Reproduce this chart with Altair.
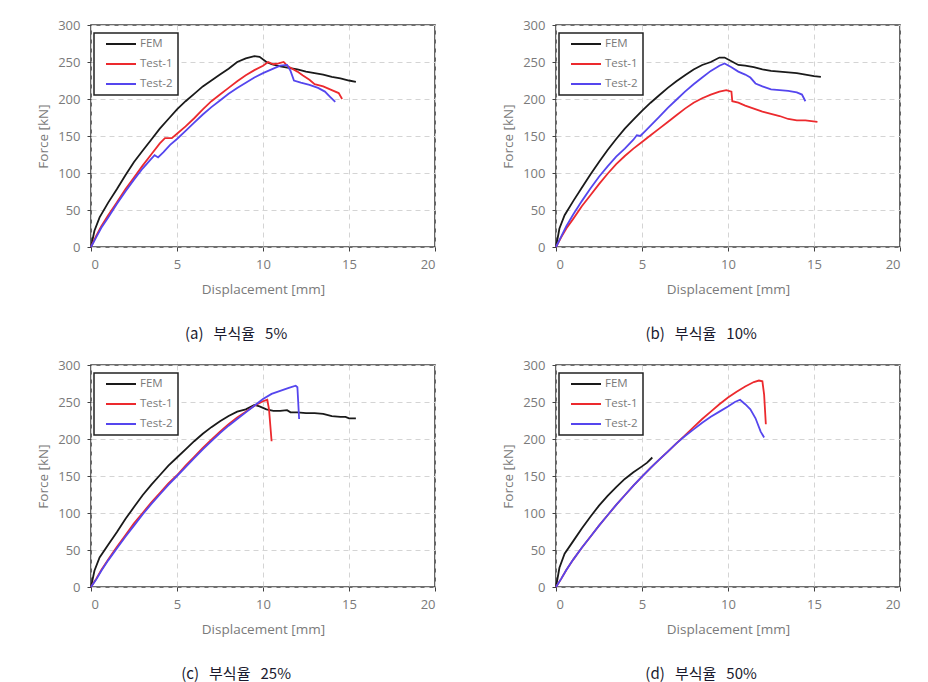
import altair as alt
import pandas as pd

# ---------------- data ----------------
# Panel (a) 5%
a_fem_x = [0, 0.2, 0.5, 1, 1.5, 2, 2.5, 3, 3.5, 4, 4.5, 5, 5.5, 6, 6.5, 7, 7.5, 8, 8.5, 9, 9.5, 9.8, 10.2, 10.5, 11, 11.5, 12, 12.5, 13, 13.5, 14, 14.5, 15, 15.4]
a_fem_y = [0, 22, 40, 60, 78, 97, 115, 130, 145, 160, 173, 186, 197, 207, 217, 225, 233, 241, 250, 255, 258, 257, 250, 247, 244, 242, 240, 237, 235, 233, 230, 228, 225, 223]
a_t1_x = [0, 0.3, 0.6, 1, 1.5, 2, 2.5, 3, 3.5, 4, 4.3, 4.7, 5, 5.5, 6, 6.5, 7, 7.5, 8, 8.5, 9, 9.5, 10, 10.3, 10.6, 10.9, 11.2, 11.4, 11.7, 12, 12.3, 12.7, 13, 13.5, 14, 14.4, 14.6]
a_t1_y = [0, 15, 28, 43, 60, 78, 94, 110, 125, 140, 147, 147, 153, 163, 174, 186, 197, 206, 215, 224, 232, 239, 245, 250, 247, 248, 250, 245, 241, 237, 232, 226, 220, 217, 212, 208, 200]
a_t2_x = [0, 0.3, 0.6, 1, 1.5, 2, 2.5, 3, 3.5, 3.7, 3.9, 4.2, 4.6, 5, 5.5, 6, 6.5, 7, 7.5, 8, 8.5, 9, 9.5, 10, 10.5, 11, 11.4, 11.6, 11.8, 12.2, 12.7, 13.2, 13.6, 13.9, 14.2]
a_t2_y = [0, 13, 26, 40, 58, 75, 91, 106, 119, 124, 121, 128, 138, 146, 157, 168, 179, 189, 198, 207, 215, 222, 229, 235, 240, 245, 246, 238, 225, 222, 219, 215, 210, 203, 196]

# Panel (b) 10%
b_fem_x = [0, 0.2, 0.5, 1, 1.5, 2, 2.5, 3, 3.5, 4, 4.5, 5, 5.5, 6, 6.5, 7, 7.5, 8, 8.5, 9, 9.5, 9.8, 10.2, 10.6, 11, 11.5, 12, 12.5, 13, 13.5, 14, 14.5, 15, 15.4]
b_fem_y = [0, 25, 43, 62, 80, 98, 115, 131, 146, 160, 172, 184, 195, 205, 215, 224, 232, 240, 246, 250, 256, 256, 251, 246, 245, 243, 240, 238, 237, 236, 235, 233, 231, 230]
b_t1_x = [0, 0.3, 0.6, 1, 1.5, 2, 2.5, 3, 3.5, 4, 4.5, 5, 5.5, 6, 6.5, 7, 7.5, 8, 8.5, 9, 9.5, 9.9, 10.2, 10.25, 10.6, 11, 11.5, 12, 12.5, 13, 13.5, 14, 14.5, 15.2]
b_t1_y = [0, 13, 25, 38, 55, 70, 85, 99, 112, 123, 133, 142, 151, 160, 169, 178, 187, 195, 201, 206, 210, 212, 210, 197, 195, 191, 187, 183, 180, 177, 173, 171, 171, 169]
b_t2_x = [0, 0.3, 0.6, 1, 1.5, 2, 2.5, 3, 3.5, 4, 4.5, 4.7, 4.9, 5.2, 5.5, 6, 6.5, 7, 7.5, 8, 8.5, 9, 9.5, 9.8, 10.2, 10.6, 11, 11.3, 11.6, 12, 12.5, 13, 13.5, 14, 14.3, 14.5]
b_t2_y = [0, 14, 28, 44, 62, 79, 95, 109, 122, 133, 145, 151, 150, 157, 164, 176, 188, 199, 210, 220, 229, 238, 245, 248, 243, 237, 233, 229, 221, 217, 213, 212, 211, 209, 206, 197]

# Panel (c) 25%
c_fem_x = [0, 0.2, 0.5, 1, 1.5, 2, 2.5, 3, 3.5, 4, 4.5, 5, 5.5, 6, 6.5, 7, 7.5, 8, 8.5, 9, 9.5, 9.8, 10.2, 10.6, 11, 11.4, 11.6, 12, 12.5, 13, 13.5, 14, 14.5, 14.8, 15, 15.4]
c_fem_y = [0, 22, 40, 57, 74, 92, 108, 124, 138, 151, 164, 175, 186, 197, 207, 216, 224, 231, 237, 240, 246, 244, 240, 238, 238, 239, 236, 236, 235, 235, 234, 231, 230, 230, 228, 228]
c_t1_x = [0, 0.3, 0.6, 1, 1.5, 2, 2.5, 3, 3.5, 4, 4.5, 5, 5.5, 6, 6.5, 7, 7.5, 8, 8.5, 9, 9.5, 10, 10.25, 10.35, 10.5]
c_t1_y = [0, 11, 23, 37, 54, 70, 86, 100, 114, 127, 140, 151, 164, 176, 188, 199, 210, 220, 229, 237, 245, 251, 253, 240, 197]
c_t2_x = [0, 0.3, 0.6, 1, 1.5, 2, 2.5, 3, 3.5, 4, 4.5, 5, 5.5, 6, 6.5, 7, 7.5, 8, 8.5, 9, 9.5, 10, 10.5, 11, 11.5, 11.9, 12.0, 12.1]
c_t2_y = [0, 10, 22, 36, 52, 68, 83, 98, 112, 125, 138, 150, 162, 174, 186, 197, 208, 218, 227, 236, 245, 254, 261, 265, 269, 272, 270, 227]

# Panel (d) 50%
d_fem_x = [0, 0.2, 0.5, 1, 1.5, 2, 2.5, 3, 3.5, 4, 4.5, 5, 5.3, 5.6]
d_fem_y = [0, 26, 45, 62, 79, 95, 110, 123, 135, 146, 155, 163, 168, 175]
d_t1_x = [0, 0.3, 0.6, 1, 1.5, 2, 2.5, 3, 3.5, 4, 4.5, 5, 5.5, 6, 6.5, 7, 7.5, 8, 8.5, 9, 9.5, 10, 10.5, 11, 11.5, 11.8, 12.0, 12.1, 12.2]
d_t1_y = [0, 11, 23, 37, 53, 68, 83, 97, 111, 124, 137, 149, 161, 172, 183, 194, 205, 216, 227, 237, 247, 256, 264, 271, 277, 279, 278, 260, 220]
d_t2_x = [0, 0.3, 0.6, 1, 1.5, 2, 2.5, 3, 3.5, 4, 4.5, 5, 5.5, 6, 6.5, 7, 7.5, 8, 8.5, 9, 9.5, 10, 10.4, 10.7, 11, 11.3, 11.6, 11.9, 12.1]
d_t2_y = [0, 11, 23, 37, 53, 68, 83, 97, 111, 124, 137, 149, 161, 172, 183, 194, 204, 213, 222, 230, 237, 244, 250, 253, 247, 240, 228, 210, 202]

series_names = ["FEM", "Test-1", "Test-2"]
series_colors = ["#1a1a1a", "#ec2a2e", "#5546ee"]
SP = "\u00a0\u00a0\u00a0"
captions = [f"(a){SP}부식율{SP}5%", f"(b){SP}부식율{SP}10%",
            f"(c){SP}부식율{SP}25%", f"(d){SP}부식율{SP}50%"]
x_ticks = [0, 5, 10, 15, 20]
y_ticks = [0, 50, 100, 150, 200, 250, 300]

panels = [
    [(a_fem_x, a_fem_y), (a_t1_x, a_t1_y), (a_t2_x, a_t2_y)],
    [(b_fem_x, b_fem_y), (b_t1_x, b_t1_y), (b_t2_x, b_t2_y)],
    [(c_fem_x, c_fem_y), (c_t1_x, c_t1_y), (c_t2_x, c_t2_y)],
    [(d_fem_x, d_fem_y), (d_t1_x, d_t1_y), (d_t2_x, d_t2_y)],
]

FONT = "Open Sans"
GRAY = "#7a7a7a"


def make_panel(series, caption):
    rows = []
    for name, (xs, ys) in zip(series_names, series):
        for i, (xv, yv) in enumerate(zip(xs, ys)):
            rows.append({"Displacement": xv, "Force": yv, "Series": name, "idx": i})
    df = pd.DataFrame(rows)
    return (
        alt.Chart(df)
        .mark_line(strokeWidth=1.8)
        .encode(
            x=alt.X("Displacement:Q",
                    scale=alt.Scale(domain=[0, 20], nice=False),
                    axis=alt.Axis(title="Displacement [mm]", values=x_ticks)),
            y=alt.Y("Force:Q",
                    scale=alt.Scale(domain=[0, 300], nice=False),
                    axis=alt.Axis(title="Force [kN]", values=y_ticks)),
            color=alt.Color("Series:N",
                            scale=alt.Scale(domain=series_names, range=series_colors),
                            legend=alt.Legend(title=None, orient="none", legendX=3, legendY=8)),
            detail="Series:N",
            order="idx:Q",
        )
        .properties(
            width=344, height=222,
            title=alt.TitleParams(caption, orient="bottom", anchor="middle", frame="bounds",
                                  font="Noto Sans CJK KR", fontSize=15, fontWeight="normal",
                                  color="#1a1a2e", offset=31),
        )
    )


charts = [make_panel(s, c) for s, c in zip(panels, captions)]
row1 = alt.hconcat(charts[0], charts[1], spacing=63).resolve_scale(color="independent").resolve_legend(color="independent")
row2 = alt.hconcat(charts[2], charts[3], spacing=63).resolve_scale(color="independent").resolve_legend(color="independent")

chart = (
    alt.vconcat(row1, row2, spacing=15)
    .resolve_scale(color="independent")
    .resolve_legend(color="independent")
    .properties(padding={"left": 27, "top": 10, "right": 0, "bottom": 0}, background="white")
    .configure_view(stroke="#404040", strokeWidth=1.6)
    .configure_axis(
        domain=False,
        grid=True,
        gridColor="#d4d4d4",
        gridDash=[5, 4],
        gridWidth=1,
        tickColor="#404040",
        tickSize=4,
        tickWidth=1,
        labelColor=GRAY,
        labelFont=FONT,
        labelFontSize=13,
        titleColor=GRAY,
        titleFont=FONT,
        titleFontSize=13.5,
        titleFontWeight="normal",
    )
    .configure_axisY(labelPadding=7, titlePadding=7)
    .configure_axisX(labelPadding=7, titlePadding=11)
    .configure_legend(
        strokeColor="#222222",
        strokeWidth=1.5,
        fillColor="white",
        padding=5,
        symbolType="M0.2,0H6.2",
        symbolSize=100,
        symbolStrokeWidth=2,
        labelFont=FONT,
        labelFontSize=11.5,
        labelColor=GRAY,
        rowPadding=8,
        labelOffset=29,
    )
)

chart.save("out.html", embed_options={"renderer": "svg", "actions": False})
